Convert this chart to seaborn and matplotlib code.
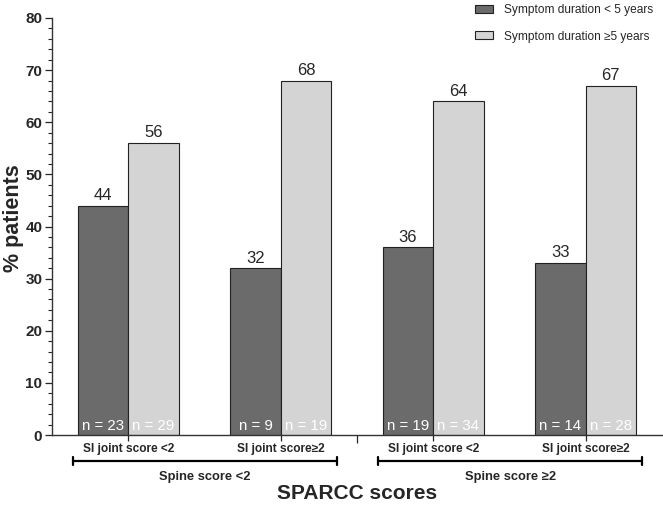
import numpy as np
import pandas as pd
import matplotlib
matplotlib.use("Agg")
import matplotlib.pyplot as plt
from matplotlib.ticker import MultipleLocator, FixedLocator
import seaborn as sns

# -------------------------------
# Data
# -------------------------------
groups = ["g1", "g2", "g3", "g4"]
tick_labels = ["SI joint score <2", "SI joint score\u22652",
               "SI joint score <2", "SI joint score\u22652"]
durations = ["Symptom duration < 5 years", "Symptom duration \u22655 years"]
short_pct = [44, 32, 36, 33]
long_pct = [56, 68, 64, 67]
short_n = [23, 9, 19, 14]
long_n = [29, 19, 34, 28]
spine_labels = ["Spine score <2", "Spine score \u22652"]

df = pd.DataFrame({
    "group": groups * 2,
    "duration": [durations[0]] * 4 + [durations[1]] * 4,
    "pct": short_pct + long_pct,
    "n": short_n + long_n,
})

# -------------------------------
# Plot
# -------------------------------
sns.set_style("ticks")
plt.rcParams["font.family"] = ["Liberation Sans", "DejaVu Sans"]

fig = plt.figure(figsize=(6.63, 5.07), dpi=100)
ax = fig.add_axes([0.0784, 0.142, 0.92, 0.8225])

palette = {durations[0]: "#6b6b6b", durations[1]: "#d4d4d4"}
sns.barplot(data=df, x="group", y="pct", hue="duration", order=groups,
            hue_order=durations, palette=palette, width=0.66,
            edgecolor="#222222", linewidth=0.8, saturation=1, ax=ax)

# value labels and n labels
for cont, pcts, ns in zip(ax.containers, [short_pct, long_pct], [short_n, long_n]):
    for bar, p, n in zip(cont, pcts, ns):
        cx = bar.get_x() + bar.get_width() / 2
        ax.text(cx, p + 0.5, f"{p}", ha="center", va="bottom", fontsize=12)
        ax.text(cx, 0.3, f"n = {n}", ha="center", va="bottom", fontsize=10.8,
                color="white")

ax.set_ylim(0, 80)
ax.set_xlim(-0.5, 3.5)
ax.yaxis.set_major_locator(MultipleLocator(10))
ax.yaxis.set_minor_locator(MultipleLocator(2))
ax.xaxis.set_minor_locator(FixedLocator([1.5]))
ax.set_xticks(range(4))
ax.set_xticklabels(tick_labels, fontweight="bold", fontsize=8.6)
for lab in ax.get_yticklabels():
    lab.set_fontweight("bold")
    lab.set_fontsize(11)
ax.tick_params(axis="y", which="major", length=5, width=0.9, pad=2)
ax.tick_params(axis="y", which="minor", length=3, width=0.8)
ax.tick_params(axis="x", which="major", length=4, width=0.9, pad=2)
ax.tick_params(axis="x", which="minor", length=6, width=0.9)
sns.despine(ax=ax)
for s in ["left", "bottom"]:
    ax.spines[s].set_linewidth(1.0)
    ax.spines[s].set_color("#333333")

ax.set_xlabel("")
ax.set_ylabel("")
fig.text(0.5385, 0.027, "SPARCC scores", ha="center", va="center",
         fontsize=15, fontweight="bold")
fig.text(0.021, 0.57, "% patients", ha="center", va="center", rotation=90,
         fontsize=15.5, fontweight="bold")

# group brackets below the axis
trans = ax.get_xaxis_transform()
for (x0, x1), lab in zip([(-0.36, 1.37), (1.64, 3.37)], spine_labels):
    ax.plot([x0, x1], [-0.062, -0.062], color="black", lw=1.6,
            transform=trans, clip_on=False)
    for xe in (x0, x1):
        ax.plot([xe, xe], [-0.052, -0.072], color="black", lw=1.6,
                transform=trans, clip_on=False)
    ax.text((x0 + x1) / 2, -0.087, lab, ha="center", va="top",
            fontsize=9.3, fontweight="bold", transform=trans)

leg = ax.legend(loc="upper right", bbox_to_anchor=(1.003, 1.06), frameon=False,
                fontsize=8.6, labelspacing=1.25, handlelength=1.5,
                handleheight=0.65, handletextpad=0.9)

fig.savefig("out.png", dpi=100)
